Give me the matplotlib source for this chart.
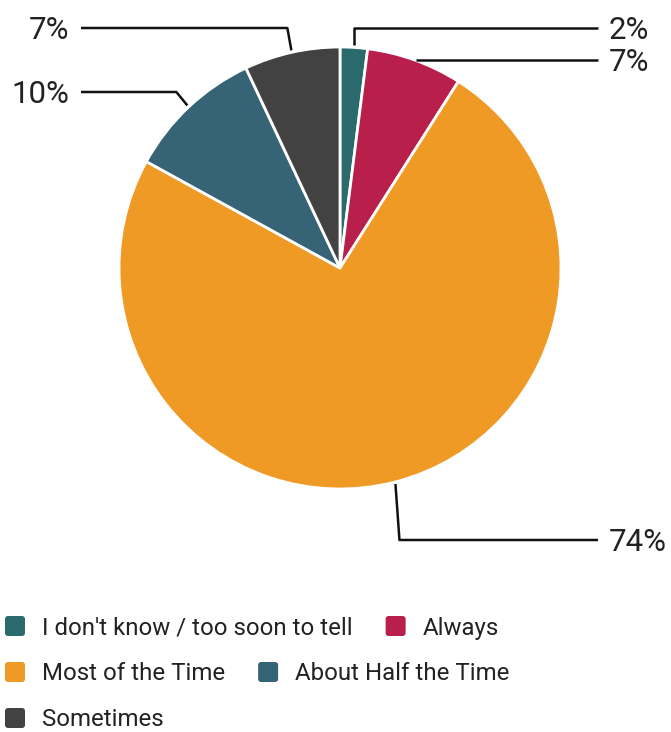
import matplotlib.pyplot as plt
from matplotlib.patches import FancyBboxPatch
import numpy as np

# Survey answers and their shares (%)
categories = ["I don't know / too soon to tell", "Always", "Most of the Time",
              "About Half the Time", "Sometimes"]
shares = [2, 7, 74, 10, 7]
colors = ["#2b6a6c", "#b81f4b", "#f09a26", "#376376", "#424242"]

W, H = 671, 732
plt.rcParams['font.family'] = ['Roboto', 'DejaVu Sans']
TEXT = '#222222'

fig = plt.figure(figsize=(W / 100, H / 100), dpi=100)
ax = fig.add_axes([0, 0, 1, 1])


def top(y):
    # work in pixels measured from the top edge
    return H - y


cx, cy, R = 340, top(268), 221
wedges, _ = ax.pie(shares, colors=colors, startangle=90, counterclock=False,
                   center=(cx, cy), radius=R,
                   wedgeprops=dict(edgecolor='white', linewidth=2))

ax.set_xlim(0, W)
ax.set_ylim(0, H)
ax.set_aspect('equal')
ax.axis('off')

# callout rows (px from top) and elbow shifts for each slice
label_rows = [28, 60, 540, 92, 28]
elbow_dx = [0, 0, 4, -11, -4]

for w, share, row, edx in zip(wedges, shares, label_rows, elbow_dx):
    theta = np.deg2rad((w.theta1 + w.theta2) / 2)
    c, s = np.cos(theta), np.sin(theta)
    ax_, ay = cx + (R + 2) * c, cy + (R + 2) * s
    ly = top(row)
    if abs(ly - ay) < 4:
        pts = [(ax_, ly)]
    else:
        pts = [(ax_, ay), (ax_ + edx, ly)]
    if c > 0:
        pts.append((598, ly))
        tx, ha = 609, 'left'
    else:
        pts.append((81, ly))
        tx, ha = 69, 'right'
    xs, ys = zip(*pts)
    ax.plot(xs, ys, color='#111111', lw=1.8, solid_capstyle='butt')
    ax.text(tx, ly - 11, f'{share}%', fontsize=22.5, color=TEXT,
            ha=ha, va='baseline')

# legend laid out in flowing rows
renderer = fig.canvas.get_renderer()
x, row = 5, 0
for name, color in zip(categories, colors):
    t = ax.text(0, 0, name, fontsize=17.3, color=TEXT, va='baseline')
    tw = t.get_window_extent(renderer).width
    if x > 5 and x + 37 + tw > W - 5:
        x, row = 5, row + 1
    yc = top(626 + 46 * row)
    ax.add_patch(FancyBboxPatch((x, yc - 10), 20, 20,
                                boxstyle='round,pad=0,rounding_size=3',
                                fc=color, ec='none'))
    t.set_position((x + 37, yc - 8.5))
    x += 37 + tw + 33

fig.savefig('out.png', dpi=100)
